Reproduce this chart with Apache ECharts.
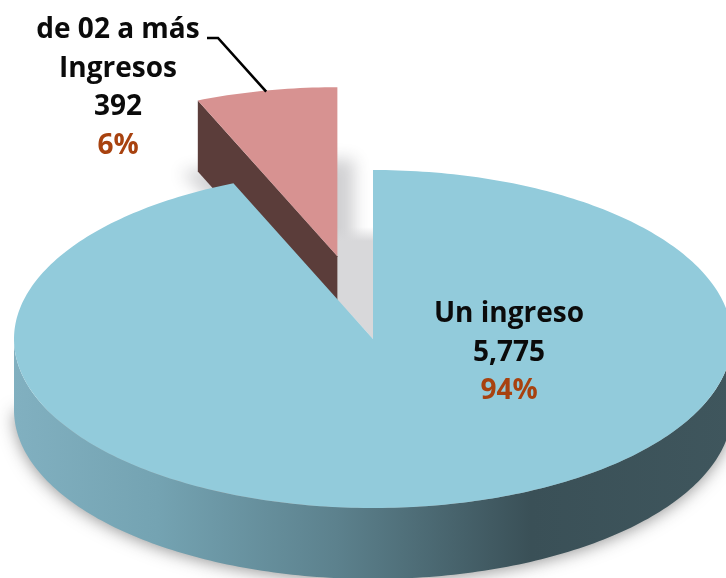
<!DOCTYPE html>
<html>
<head>
<meta charset="utf-8">
<title>Ingresos</title>
<style>
  html, body { margin: 0; padding: 0; background: #fff; }
  #main { width: 726px; height: 578px; }
</style>
<script src="https://cdn.jsdelivr.net/npm/echarts@6/dist/echarts.min.js"></script>
</head>
<body>
<div id="main"></div>
<script>
// datos
const categories = ['Un ingreso', 'de 02 a más\nIngresos'];
const values = [5775, 392];
const percents = ['94%', '6%'];
const valueLabels = ['5,775', '392'];

// layout del pastel 3D (la imagen se sale por la derecha y por abajo)
const cx = 373, cy = 339, rx = 359, ry = 169, depth = 71;
const explode = 0.5;
const labelPos = [[509, 353], [118, 88]];
const total = values[0] + values[1];
const rad = d => d * Math.PI / 180;

// angulo en grados, 0 arriba y en sentido horario
function pt(a, ox, oy) {
  return [ox + rx * Math.sin(rad(a)), oy - ry * Math.cos(rad(a))];
}
function arc(a0, a1, ox, oy) {
  const pts = [];
  const n = Math.ceil(Math.abs(a1 - a0));
  for (let i = 0; i <= n; i++) pts.push(pt(a0 + (a1 - a0) * i / n, ox, oy));
  return pts;
}
const down = p => [p[0], p[1] + depth];

function renderItem(params, api) {
  const i = params.dataIndex;
  const start = api.value(1), end = api.value(2);
  const sweep = end - start;
  const children = [];

  if (sweep > 180) {
    // porcion grande, sin separar
    const sideTop = arc(90, 270, cx, cy);
    // halo alrededor del canto: solo se ve la sombra
    children.push({
      type: 'polygon', z2: 0,
      x: -1000,
      shape: { points: arc(90, 270, cx, cy + depth) },
      style: {
        fill: '#000',
        shadowBlur: 16, shadowColor: 'rgba(50,50,50,0.5)', shadowOffsetX: 1000, shadowOffsetY: 2
      }
    });
    children.push({
      type: 'polygon', z2: 20,
      shape: { points: sideTop.concat(sideTop.slice().reverse().map(down)) },
      style: {
        fill: new echarts.graphic.LinearGradient(cx - rx, 0, cx + rx, 0, [
          { offset: 0, color: '#81b0c0' },
          { offset: 0.2, color: '#74a3b2' },
          { offset: 0.45, color: '#5c818d' },
          { offset: 0.72, color: '#3a5057' },
          { offset: 1, color: '#3f565d' }
        ], true)
      }
    });
    children.push({
      type: 'polygon', z2: 21,
      shape: { points: [[cx, cy]].concat(arc(start, end, cx, cy)) },
      style: { fill: '#92cbdb' }
    });
  } else {
    // porcion separada del centro
    const mid = (start + end) / 2;
    const ox = cx + rx * explode * Math.sin(rad(mid));
    const oy = cy - ry * explode * Math.cos(rad(mid));
    const top = arc(start, end, ox, oy);
    const apex = [ox, oy];
    const corner = pt(start, ox, oy);
    const midX = (corner[0] + apex[0]) / 2;

    // sombra borrosa de la base: la figura queda fuera y solo se ve su sombra
    children.push({
      type: 'polygon', z2: 1,
      x: -1000,
      shape: {
        points: [apex].concat(top).map(down).map(p => [midX + (p[0] - midX) * 1.24, p[1] + 1])
      },
      style: {
        fill: '#000',
        shadowBlur: 16, shadowColor: 'rgba(45,45,55,0.22)', shadowOffsetX: 1000
      }
    });
    // hueco del pastel
    children.push({
      type: 'polygon', z2: 2,
      shape: { points: [[cx, cy]].concat(arc(start, end, cx, cy)) },
      style: {
        fill: new echarts.graphic.LinearGradient(0, cy - 112, 0, cy - 98, [
          { offset: 0, color: 'rgba(216,216,218,0)' },
          { offset: 1, color: '#d8d8da' }
        ], true)
      }
    });
    children.push({
      type: 'polygon', z2: 10,
      shape: { points: [apex, corner, down(corner), down(apex)] },
      style: { fill: '#5b3d3a' }
    });
    children.push({
      type: 'polygon', z2: 11,
      shape: { points: [apex].concat(top) },
      style: { fill: '#d79291' }
    });
    // linea guia desde el borde de la porcion hasta la etiqueta
    const edge = pt(mid, ox, oy);
    children.push({
      type: 'polyline', z2: 30,
      shape: { points: [[edge[0], edge[1] + 1], [218, 38], [207, 38]] },
      style: { fill: null, stroke: '#000', lineWidth: 2.6 }
    });
  }

  children.push({
    type: 'text', z2: 40,
    x: labelPos[i][0], y: labelPos[i][1],
    style: {
      text: categories[i] + '\n' + valueLabels[i] + '\n{p|' + percents[i] + '}',
      fill: '#0b0b0b',
      font: 'bold 28px "Open Sans"',
      align: 'center',
      verticalAlign: 'middle',
      lineHeight: 38.5,
      rich: { p: { fill: '#a8420f', font: 'bold 28px "Open Sans"', lineHeight: 38.5 } }
    }
  });
  return { type: 'group', children: children };
}

// angulos de cada porcion a partir de los valores; la grande empieza a las 12
const seriesData = values.map((v, i) => {
  const a0 = i === 0 ? 0 : values[0] / total * 360;
  return [v, a0, a0 + v / total * 360];
});

const chart = echarts.init(document.getElementById('main'), null, { renderer: 'canvas' });
chart.setOption({
  backgroundColor: '#fff',
  animation: false,
  series: [{
    type: 'custom',
    coordinateSystem: 'none',
    silent: true,
    clip: false,
    renderItem: renderItem,
    data: seriesData
  }]
});
</script>
</body>
</html>
